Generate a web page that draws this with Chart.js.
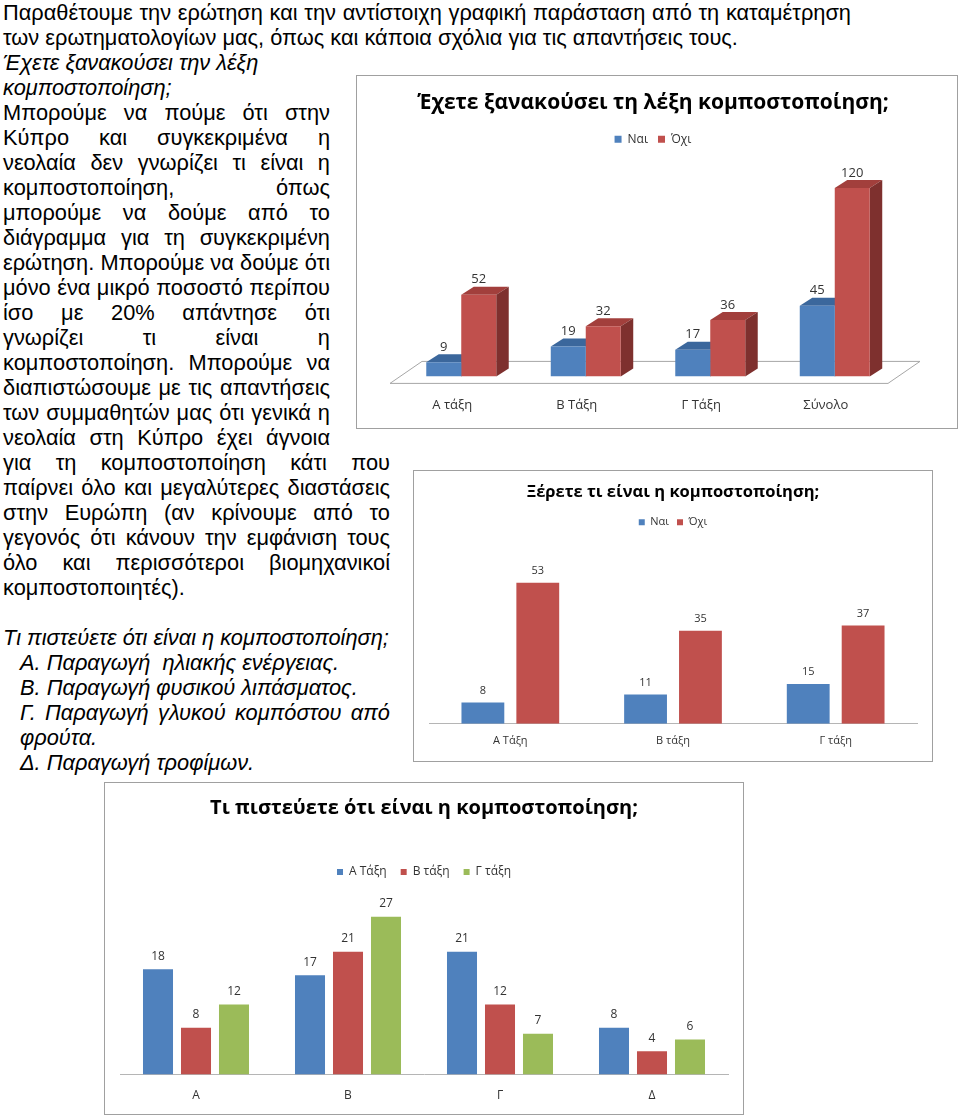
<!DOCTYPE html>
<html>
<head>
<meta charset="utf-8">
<script src="https://cdn.jsdelivr.net/npm/chart.js@4"></script>
<style>
  html, body { margin: 0; padding: 0; background: #fff; }
  body { position: relative; width: 960px; height: 1117px; overflow: hidden;
         font-family: "Liberation Sans", Arial, sans-serif; font-size: 21.8px; color: #000; }
  .ln { position: absolute; left: 3px; height: 25px; line-height: 25px; white-space: nowrap; }
  .j { text-align: justify; text-align-last: justify; word-spacing: -1px; }
  .it { font-style: italic; }
  .ind { left: 20px; }
  .box { position: absolute; border: 1px solid #a0a0a0; background: #fff; overflow: hidden; }
  .box canvas { display: block; }
</style>
</head>
<body>

<div class="ln j" style="top:0px;width:848px">Παραθέτουμε την ερώτηση και την αντίστοιχη γραφική παράσταση από τη καταμέτρηση</div>
<div class="ln" style="top:25px">των ερωτηματολογίων μας, όπως και κάποια σχόλια για τις απαντήσεις τους.</div>
<div class="ln it" style="top:50px">Έχετε ξανακούσει την λέξη</div>
<div class="ln it" style="top:75px">κομποστοποίηση;</div>
<div class="ln j" style="top:100px;width:327px">Μπορούμε να πούμε ότι στην</div>
<div class="ln j" style="top:125px;width:327px">Κύπρο και συγκεκριμένα η</div>
<div class="ln j" style="top:150px;width:327px">νεολαία δεν γνωρίζει τι είναι η</div>
<div class="ln j" style="top:175px;width:327px">κομποστοποίηση, όπως</div>
<div class="ln j" style="top:200px;width:327px">μπορούμε να δούμε από το</div>
<div class="ln j" style="top:225px;width:327px">διάγραμμα για τη συγκεκριμένη</div>
<div class="ln j" style="top:250px;width:327px">ερώτηση. Μπορούμε να δούμε ότι</div>
<div class="ln j" style="top:275px;width:327px">μόνο ένα μικρό ποσοστό περίπου</div>
<div class="ln j" style="top:300px;width:327px">ίσο με 20% απάντησε ότι</div>
<div class="ln j" style="top:325px;width:327px">γνωρίζει τι είναι η</div>
<div class="ln j" style="top:350px;width:327px">κομποστοποίηση. Μπορούμε να</div>
<div class="ln j" style="top:375px;width:327px">διαπιστώσουμε με τις απαντήσεις</div>
<div class="ln j" style="top:400px;width:327px">των συμμαθητών μας ότι γενικά η</div>
<div class="ln j" style="top:425px;width:327px">νεολαία στη Κύπρο έχει άγνοια</div>
<div class="ln j" style="top:450px;width:387px">για τη κομποστοποίηση κάτι που</div>
<div class="ln j" style="top:475px;width:387px">παίρνει όλο και μεγαλύτερες διαστάσεις</div>
<div class="ln j" style="top:500px;width:387px">στην Ευρώπη (αν κρίνουμε από το</div>
<div class="ln j" style="top:525px;width:387px">γεγονός ότι κάνουν την εμφάνιση τους</div>
<div class="ln j" style="top:550px;width:387px">όλο και περισσότεροι βιομηχανικοί</div>
<div class="ln" style="top:575px">κομποστοποιητές).</div>
<div class="ln it" style="top:625px">Τι πιστεύετε ότι είναι η κομποστοποίηση;</div>
<div class="ln it ind" style="top:650px">Α. Παραγωγή &nbsp;ηλιακής ενέργειας.</div>
<div class="ln it ind" style="top:675px">Β. Παραγωγή φυσικού λιπάσματος.</div>
<div class="ln it ind j" style="top:700px;width:370px">Γ. Παραγωγή γλυκού κομπόστου από</div>
<div class="ln it ind" style="top:725px">φρούτα.</div>
<div class="ln it ind" style="top:750px">Δ. Παραγωγή τροφίμων.</div>

<div class="box" style="left:356px;top:75px;width:600px;height:352px"><canvas id="heard" width="600" height="360"></canvas></div>
<div class="box" style="left:413px;top:470px;width:518px;height:290px"><canvas id="know" width="518" height="290"></canvas></div>
<div class="box" style="left:104px;top:782px;width:638px;height:331px"><canvas id="think" width="638" height="336"></canvas></div>

<script>
// Έχετε ξανακούσει τη λέξη κομποστοποίηση;
const heardLabels = ["Α τάξη", "Β Τάξη", "Γ Τάξη", "Σύνολο"];
const heardYes = [9, 19, 17, 45];
const heardNo = [52, 32, 36, 120];

// Ξέρετε τι είναι η κομποστοποίηση;
const knowLabels = ["Α Τάξη", "Β τάξη", "Γ τάξη"];
const knowYes = [8, 11, 15];
const knowNo = [53, 35, 37];

// Τι πιστεύετε ότι είναι η κομποστοποίηση;
const thinkLabels = ["Α", "Β", "Γ", "Δ"];
const thinkA = [18, 17, 21, 8];
const thinkB = [8, 21, 12, 4];
const thinkC = [12, 27, 7, 6];

const BLUE = "#4F81BD", RED = "#C0504D", GREEN = "#9BBB59";

Chart.defaults.font.family = "'Open Sans', sans-serif";
Chart.defaults.color = "#333";

// numbers above the bars
const valueLabels = {
  id: "valueLabels",
  afterDatasetsDraw(chart, args, opts) {
    const ctx = chart.ctx;
    ctx.save();
    ctx.font = opts.size + "px 'Open Sans', sans-serif";
    ctx.fillStyle = "#333";
    ctx.textAlign = "center";
    ctx.textBaseline = "middle";
    chart.data.datasets.forEach((ds, i) => {
      chart.getDatasetMeta(i).data.forEach((bar, j) => {
        ctx.fillText(ds.data[j], bar.x, bar.y - opts.lift);
      });
    });
    ctx.restore();
  }
};

// fake 3d: floor + top/side faces, drawn before the bar fronts
const depth = {
  id: "depth",
  beforeDatasetsDraw(chart) {
    const { ctx, chartArea: a } = chart;
    const base = chart.scales.y.getPixelForValue(0);
    ctx.save();
    ctx.beginPath();
    ctx.moveTo(a.left - 9, base + 7);
    ctx.lineTo(a.right - 9, base + 7);
    ctx.lineTo(a.right + 23, base - 15);
    ctx.lineTo(a.left + 23, base - 15);
    ctx.closePath();
    ctx.fillStyle = "#fff";
    ctx.fill();
    ctx.strokeStyle = "#a6a6a6";
    ctx.lineWidth = 1;
    ctx.stroke();

    const dx = 12.5, dy = 8;
    chart.data.datasets.forEach((ds, i) => {
      chart.getDatasetMeta(i).data.forEach(bar => {
        const p = bar.getProps(["x", "y", "width", "base"], true);
        const l = p.x - p.width / 2, r = p.x + p.width / 2;
        ctx.fillStyle = ds.topColor;
        ctx.beginPath();
        ctx.moveTo(l, p.y);
        ctx.lineTo(l + dx, p.y - dy);
        ctx.lineTo(r + dx, p.y - dy);
        ctx.lineTo(r, p.y);
        ctx.closePath();
        ctx.fill();
        ctx.fillStyle = ds.sideColor;
        ctx.beginPath();
        ctx.moveTo(r, p.y);
        ctx.lineTo(r + dx, p.y - dy);
        ctx.lineTo(r + dx, p.base - dy);
        ctx.lineTo(r, p.base);
        ctx.closePath();
        ctx.fill();
      });
    });
    ctx.restore();
  }
};

function fitToScale(chart, pxPerUnit) {
  const a = chart.chartArea;
  chart.options.scales.y.max = (a.bottom - a.top) / pxPerUnit;
  chart.update("none");
}

function legendOpts(size, box, pad) {
  return {
    display: true,
    position: "top",
    labels: { boxWidth: box, boxHeight: box, padding: pad, color: "#333", font: { size: size } }
  };
}

// chart 1
const heard = new Chart(document.getElementById("heard"), {
  type: "bar",
  data: {
    labels: heardLabels,
    datasets: [
      { label: "Ναι", data: heardYes, backgroundColor: BLUE, borderWidth: 0,
        topColor: "#3B679C", sideColor: "#34598A" },
      { label: "Όχι", data: heardNo, backgroundColor: RED, borderWidth: 0,
        topColor: "#A23F3C", sideColor: "#7E302E" }
    ]
  },
  options: {
    responsive: false,
    animation: false,
    layout: { padding: { left: 42, right: 50, top: 0, bottom: 2 } },
    datasets: { bar: { categoryPercentage: 0.562, barPercentage: 1.0 } },
    scales: {
      x: {
        grid: { display: false, drawTicks: false },
        border: { display: false },
        ticks: { padding: 21, labelOffset: -9, font: { size: 13 }, color: "#333" }
      },
      y: {
        position: "right",
        min: 0,
        grid: { display: false, drawTicks: false },
        border: { display: false },
        ticks: { display: false },
        afterFit(scale) { scale.width = 10; }
      }
    },
    plugins: {
      title: { display: true, text: "Έχετε ξανακούσει τη λέξη κομποστοποίηση;", color: "#000",
               font: { size: 21, weight: "bold" }, padding: { top: 14, bottom: 8 } },
      legend: legendOpts(12, 7, 10),
      tooltip: { enabled: false },
      valueLabels: { size: 13, lift: 15 }
    }
  },
  plugins: [depth, valueLabels]
});
fitToScale(heard, 1.57);

// chart 2
const know = new Chart(document.getElementById("know"), {
  type: "bar",
  data: {
    labels: knowLabels,
    datasets: [
      { label: "Ναι", data: knowYes, backgroundColor: BLUE, borderWidth: 0 },
      { label: "Όχι", data: knowNo, backgroundColor: RED, borderWidth: 0 }
    ]
  },
  options: {
    responsive: false,
    animation: false,
    layout: { padding: { left: 15, right: 15, top: 0, bottom: 4 } },
    datasets: { bar: { categoryPercentage: 0.675, barPercentage: 0.78 } },
    scales: {
      x: {
        grid: { display: false, drawTicks: false },
        border: { display: true, color: "#b5b5b5", width: 1 },
        ticks: { padding: 10, font: { size: 11 }, color: "#333" }
      },
      y: { display: false, min: 0 }
    },
    plugins: {
      title: { display: true, text: "Ξέρετε τι είναι η κομποστοποίηση;", color: "#000",
               font: { size: 16.5, weight: "bold" }, padding: { top: 11, bottom: 7 } },
      legend: legendOpts(11, 6, 8),
      tooltip: { enabled: false },
      valueLabels: { size: 11, lift: 12 }
    }
  },
  plugins: [valueLabels]
});
fitToScale(know, 2.66);

// chart 3
const think = new Chart(document.getElementById("think"), {
  type: "bar",
  data: {
    labels: thinkLabels,
    datasets: [
      { label: "Α Τάξη", data: thinkA, backgroundColor: BLUE, borderWidth: 0 },
      { label: "Β τάξη", data: thinkB, backgroundColor: RED, borderWidth: 0 },
      { label: "Γ τάξη", data: thinkC, backgroundColor: GREEN, borderWidth: 0 }
    ]
  },
  options: {
    responsive: false,
    animation: false,
    layout: { padding: { left: 15, right: 15, top: 0, bottom: 2 } },
    datasets: { bar: { categoryPercentage: 0.75, barPercentage: 0.79 } },
    scales: {
      x: {
        grid: { display: false, drawTicks: false },
        border: { display: true, color: "#b5b5b5", width: 1 },
        ticks: { padding: 14, font: { size: 12 }, color: "#333" }
      },
      y: { display: false, min: 0 }
    },
    plugins: {
      title: { display: true, text: "Τι πιστεύετε ότι είναι η κομποστοποίηση;", color: "#000",
               font: { size: 20, weight: "bold" }, padding: { top: 13, bottom: 32 } },
      legend: legendOpts(12, 6, 14),
      tooltip: { enabled: false },
      valueLabels: { size: 12, lift: 13 }
    }
  },
  plugins: [valueLabels]
});
fitToScale(think, 5.85);
</script>
</body>
</html>
